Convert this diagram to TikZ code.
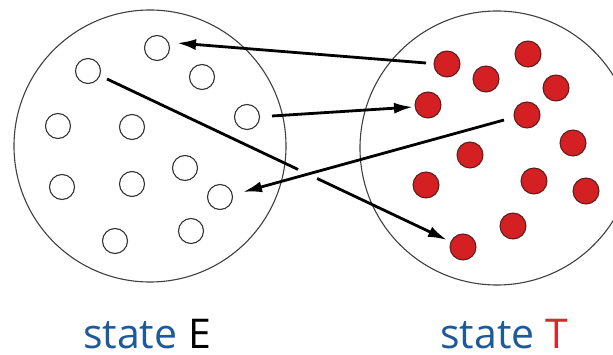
\documentclass[tikz,border=0pt]{standalone}
\usepackage{fontspec}
\setsansfont{Open Sans}
\usetikzlibrary{arrows.meta,calc}
\definecolor{dotred}{HTML}{D41F23}
\definecolor{dotedge}{HTML}{5A1C1C}
\definecolor{labelblue}{HTML}{1D5A9B}
\definecolor{labelred}{HTML}{D8262A}
\begin{document}
\begin{tikzpicture}[x=1pt,y=-1pt,
  region/.style={draw=black!75, line width=1.1pt},
  emptyp/.style={circle, draw=black!80, line width=1.1pt, fill=white,
    minimum size=25pt, inner sep=0pt, outer sep=0pt},
  fullp/.style={circle, draw=dotedge, line width=1pt, fill=dotred,
    minimum size=26pt, inner sep=0pt, outer sep=0pt},
  move/.style={line width=2.8pt, -{Latex[length=19pt,width=11pt]}},
  plain/.style={line width=2.8pt},
  caption/.style={font=\sffamily\fontsize{41}{41}\selectfont,
    text=labelblue, anchor=base, inner sep=0pt, text depth=0pt}]
\useasboundingbox (0,0) rectangle (613,355);
\clip (0,0) rectangle (613,355);
\fill[white] (0,0) rectangle (613,355);

% the two populations
\draw[region] (150,146) circle[radius=136pt];
\draw[region] (497,148) circle[radius=137pt];

% state E: empty particles
\node[emptyp] (W1)  at (157,48)  {};
\node[emptyp] (W2)  at (88,71)   {};
\node[emptyp] (W3)  at (202,77)  {};
\node[emptyp] (W4)  at (247,117) {};
\node[emptyp] (W5)  at (58,126)  {};
\node[emptyp] (W6)  at (132,127) {};
\node[emptyp] (W7)  at (185,168) {};
\node[emptyp] (W8)  at (62,187)  {};
\node[emptyp] (W9)  at (132,184) {};
\node[emptyp] (W10) at (220,197) {};
\node[emptyp] (W11) at (115,241) {};
\node[emptyp] (W12) at (191,231) {};

% state T: filled particles
\node[fullp] (R1)  at (447,64)  {};
\node[fullp] (R2)  at (528,54)  {};
\node[fullp] (R3)  at (486,79)  {};
\node[fullp] (R4)  at (556,88)  {};
\node[fullp] (R5)  at (428,105) {};
\node[fullp] (R6)  at (527,115) {};
\node[fullp] (R7)  at (573,143) {};
\node[fullp] (R8)  at (470,155) {};
\node[fullp] (R9)  at (426,185) {};
\node[fullp] (R10) at (534,181) {};
\node[fullp] (R11) at (586,191) {};
\node[fullp] (R12) at (513,226) {};
\node[fullp] (R13) at (463,247) {};

% transitions
\draw[move] ($(R1.center)+(-21,-1)$) -- ($(W1.center)+(20,-5)$);
\draw[move] ($(W4.center)+(25,-1)$) -- ($(R5.center)+(-15,2)$);

\coordinate (A4s) at ($(W2.center)+(19,8)$);
\coordinate (A4e) at ($(R13.center)+(-16,-7)$);
\draw[plain] (A4s) -- ($(A4s)!0.562!(A4e)$);
\draw[move] ($(A4s)!0.618!(A4e)$) -- (A4e);

\draw[move] ($(R6.center)+(-23,5)$) -- ($(W10.center)+(23,-5)$);

% captions
\node[caption] (capE) at (147,348) {state \textcolor{black}{E}};
\node[caption] (capT) at (504,348) {state \textcolor{labelred}{T}};
\end{tikzpicture}
\end{document}
